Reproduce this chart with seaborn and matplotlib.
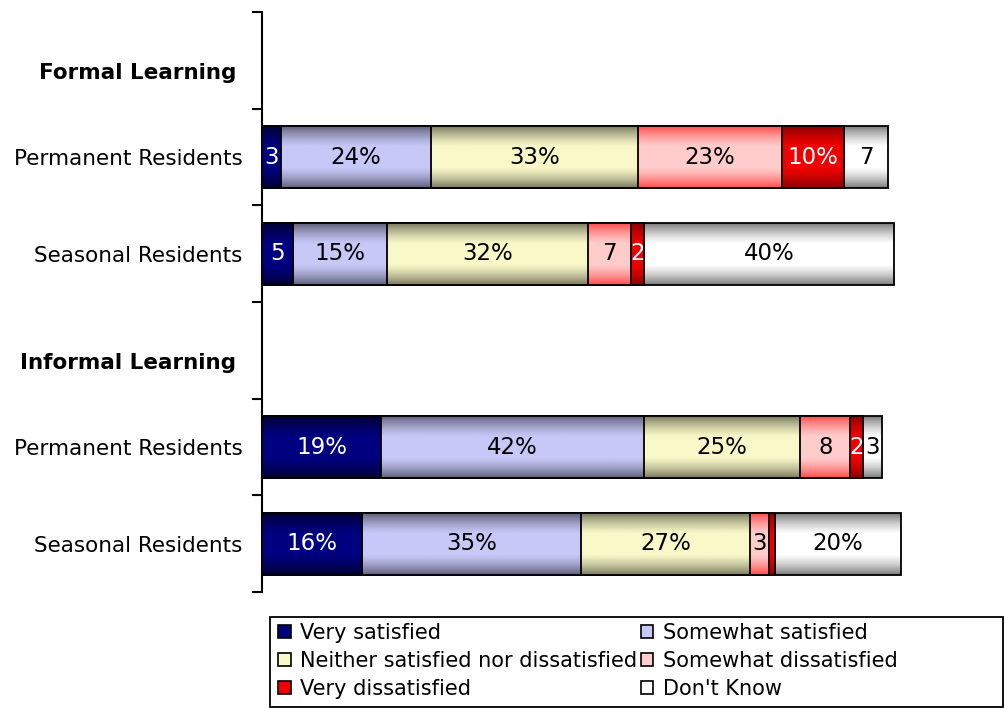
import numpy as np
import pandas as pd
import matplotlib
matplotlib.use("Agg")
import matplotlib.pyplot as plt
import seaborn as sns
from matplotlib.patches import Patch, Rectangle
from matplotlib.colors import to_rgb

# rows of the chart (headers have no bars)
rows = ["Formal Learning", "Formal|Permanent", "Formal|Seasonal",
        "Informal Learning", "Informal|Permanent", "Informal|Seasonal"]
row_labels = ["Formal Learning", "Permanent Residents", "Seasonal Residents",
              "Informal Learning", "Permanent Residents", "Seasonal Residents"]
header_rows = ["Formal Learning", "Informal Learning"]
bar_rows = ["Formal|Permanent", "Formal|Seasonal", "Informal|Permanent", "Informal|Seasonal"]

very_satisfied = [3, 5, 19, 16]
somewhat_satisfied = [24, 15, 42, 35]
neither = [33, 32, 25, 27]
somewhat_dissatisfied = [23, 7, 8, 3]
very_dissatisfied = [10, 2, 2, 1]
dont_know = [7, 40, 3, 20]

segment_names = ["Very satisfied", "Somewhat satisfied",
                 "Neither satisfied nor dissatisfied", "Somewhat dissatisfied",
                 "Very dissatisfied", "Don't Know"]
segment_values = [very_satisfied, somewhat_satisfied, neither,
                  somewhat_dissatisfied, very_dissatisfied, dont_know]
colors = ["#000080", "#C8C8F8", "#F8F8C8", "#FFCCCC", "#F00000", "#FFFFFF"]
edge_dark = ["#000030", "#5E5E78", "#78785E", "#FF4A4A", "#8A0000", "#7A7A7A"]
text_colors = ["white", "black", "black", "black", "white", "black"]

df = pd.DataFrame({"row": bar_rows})
for name, vals in zip(segment_names, segment_values):
    df[name] = vals
cum = df[segment_names].cumsum(axis=1)

sns.set_style("white")
plt.rcParams["font.family"] = ["DejaVu Sans"]
plt.rcParams["text.color"] = "black"
FS = 15.5

fig = plt.figure(figsize=(10.05, 7.08), dpi=100)
ax = fig.add_axes([262 / 1005, 1 - 592 / 708, 1 - 262 / 1005, (592 - 12) / 708])

# stacked bars: draw cumulative totals from longest to shortest
groups = []
for i in reversed(range(len(segment_names))):
    n0 = len(ax.patches)
    sns.barplot(x=cum[segment_names[i]], y=df["row"], order=rows, orient="h",
                color=colors[i], width=0.64, errorbar=None, ax=ax,
                edgecolor="black", linewidth=1.3)
    groups.append((i, ax.patches[n0:]))

# gradient fill clipped to each bar
t = np.linspace(0, 1, 80)
shape = np.clip(np.sin(np.pi * t) ** 0.9 * 1.15, 0, 1)
for k, (i, patches) in enumerate(groups):
    c = np.array(to_rgb(colors[i]))
    d = np.array(to_rgb(edge_dark[i]))
    grad = d[None, :] + (c - d)[None, :] * shape[:, None]
    img = grad[:, None, :]
    for p in patches:
        if p.get_width() <= 0 or np.isnan(p.get_width()):
            continue
        x0, y0, w, h = p.get_x(), p.get_y(), p.get_width(), p.get_height()
        z = 2 + 2 * k
        im = ax.imshow(img, extent=[x0, x0 + w, y0 + h, y0], aspect="auto",
                       zorder=z, interpolation="bilinear")
        im.set_clip_path(p)
        p.set_facecolor("none")
        p.set_zorder(z + 1)

# value labels
for i, name in enumerate(segment_names):
    for j, r in enumerate(bar_rows):
        v = df.loc[j, name]
        if v < 2:
            continue
        left = cum.loc[j, name] - v
        label = f"{v}%" if v >= 10 else str(v)
        ax.text(left + v / 2, rows.index(r), label, ha="center", va="center",
                fontsize=16.5, color=text_colors[i], zorder=50)

ax.set_xlim(0, (1005 - 262) / 6.26)
ax.set_ylim(5.5, -0.5)
ax.set_xticks([])
ax.set_xlabel("")
ax.set_ylabel("")
ax.set_yticks(range(len(rows)))
ax.set_yticklabels(["" if r in header_rows else lab for r, lab in zip(rows, row_labels)],
                   fontsize=FS, color="black")
# group headers sit a little below the row centre
for r in header_rows:
    ax.text(-26 / (1005 - 262), rows.index(r) + 0.13, r, transform=ax.get_yaxis_transform(),
            ha="right", va="center", fontsize=FS, fontweight="bold", color="black")
ax.set_yticks(np.arange(-0.5, len(rows), 1), minor=True)
ax.tick_params(axis="y", which="major", length=0, pad=14)
ax.tick_params(axis="y", which="minor", length=7, width=1.5, direction="out", color="black", left=True)
for s in ["top", "right", "bottom"]:
    ax.spines[s].set_visible(False)
ax.spines["left"].set_color("black")
ax.spines["left"].set_linewidth(1.5)

# legend, row-wise order as in the original (matplotlib fills by column)
order = [0, 2, 4, 1, 3, 5]
handles = [Patch(facecolor=colors[i], edgecolor="black", linewidth=1.2) for i in order]
labels = [segment_names[i] for i in order]
leg = fig.legend(handles, labels, ncol=2, loc="upper left",
                 bbox_to_anchor=(278 / 1005, 1 - 623 / 708), frameon=False,
                 fontsize=15, handlelength=0.62, handleheight=0.62,
                 handletextpad=0.45, labelspacing=0.38, columnspacing=0.15,
                 borderpad=0, borderaxespad=0, labelcolor="black")
fig.patches.append(Rectangle((270 / 1005, 1 - 707 / 708), 733 / 1005, 90 / 708,
                             transform=fig.transFigure, fill=False,
                             edgecolor="black", linewidth=1.3))

fig.savefig("out.png", dpi=100)
